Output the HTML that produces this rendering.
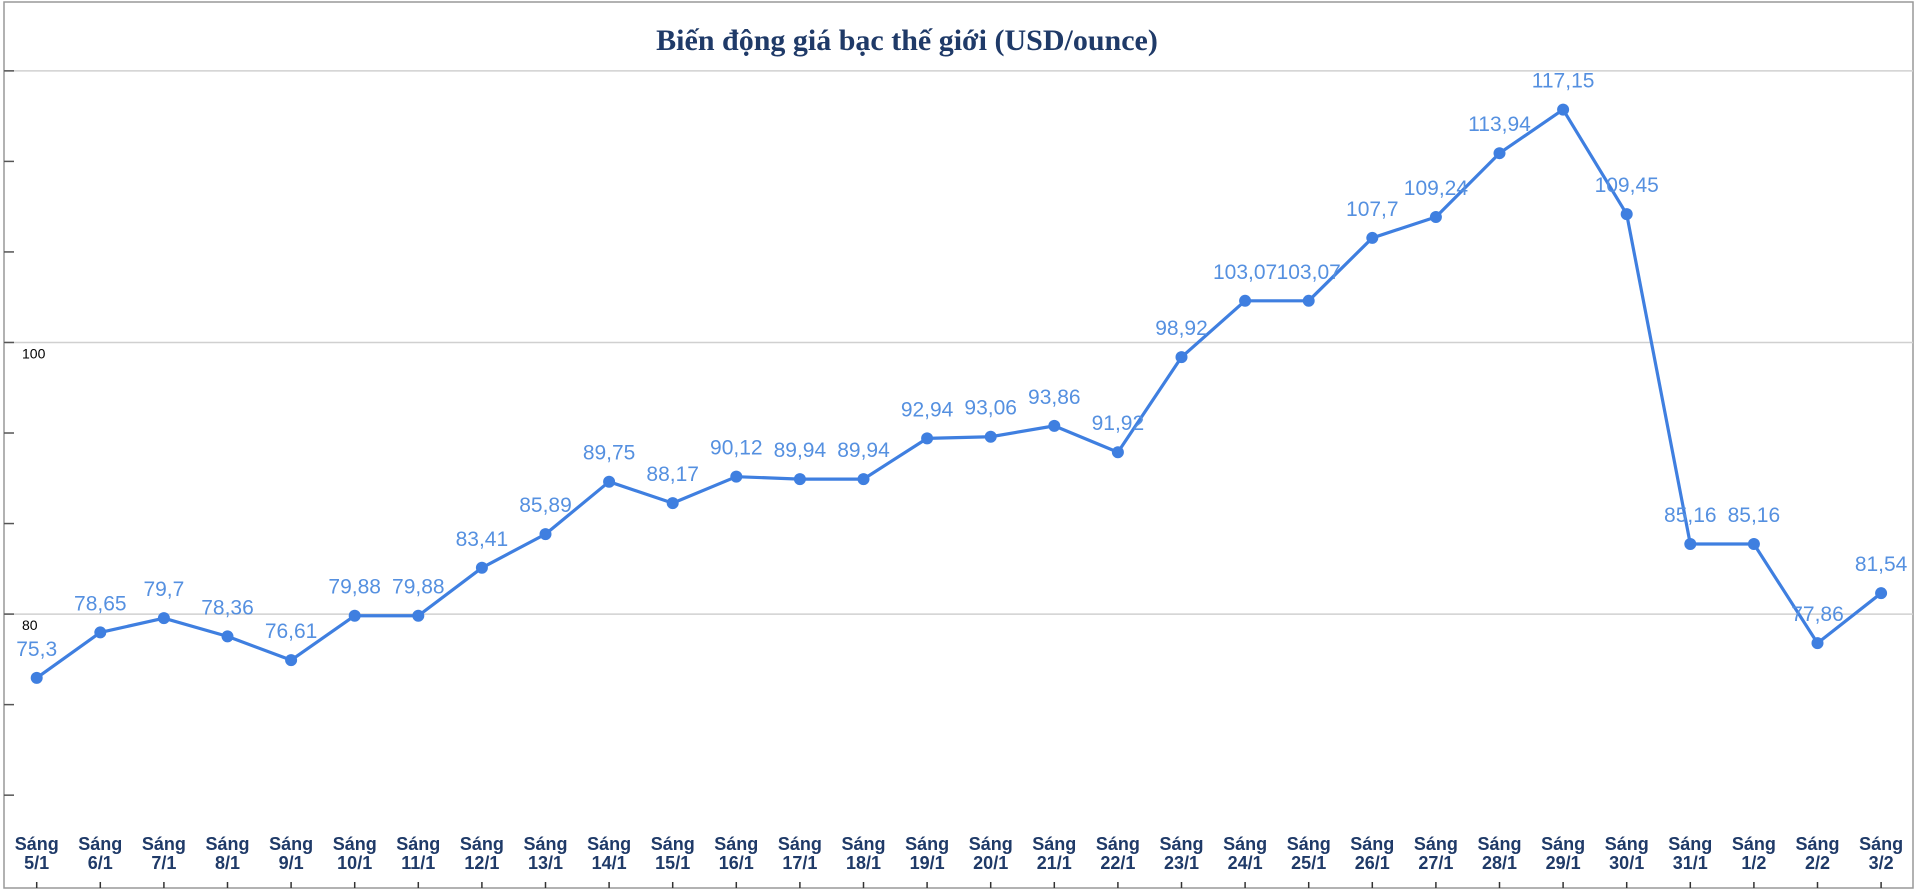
<!DOCTYPE html>
<html><head><meta charset="utf-8"><style>
html,body{margin:0;padding:0;background:#fff;width:1918px;height:891px;overflow:hidden}
svg{display:block}
</style></head><body>
<svg id="chart" width="1918" height="891" xmlns="http://www.w3.org/2000/svg">
<rect x="4" y="2" width="1909" height="886" fill="#fff" stroke="#999" stroke-width="1.5"/>
<text x="907" y="50" text-anchor="middle" font-family="Liberation Serif, serif" font-weight="bold" font-size="30" fill="#1f3a68">Biến động giá bạc thế giới (USD/ounce)</text>
<g id="grid"></g><g id="series"></g><g id="labels"></g><g id="xaxis"></g>
</svg>
<script>
const categories=["Sáng 5/1","Sáng 6/1","Sáng 7/1","Sáng 8/1","Sáng 9/1","Sáng 10/1","Sáng 11/1","Sáng 12/1","Sáng 13/1","Sáng 14/1","Sáng 15/1","Sáng 16/1","Sáng 17/1","Sáng 18/1","Sáng 19/1","Sáng 20/1","Sáng 21/1","Sáng 22/1","Sáng 23/1","Sáng 24/1","Sáng 25/1","Sáng 26/1","Sáng 27/1","Sáng 28/1","Sáng 29/1","Sáng 30/1","Sáng 31/1","Sáng 1/2","Sáng 2/2","Sáng 3/2"];
const prices=[75.3,78.65,79.7,78.36,76.61,79.88,79.88,83.41,85.89,89.75,88.17,90.12,89.94,89.94,92.94,93.06,93.86,91.92,98.92,103.07,103.07,107.7,109.24,113.94,117.15,109.45,85.16,85.16,77.86,81.54];
const priceLabels=["75,3","78,65","79,7","78,36","76,61","79,88","79,88","83,41","85,89","89,75","88,17","90,12","89,94","89,94","92,94","93,06","93,86","91,92","98,92","103,07","103,07","107,7","109,24","113,94","117,15","109,45","85,16","85,16","77,86","81,54"];
const gridValues=[120,100,80];
const yTickLabels=["","100","80"];
const NS="http://www.w3.org/2000/svg";
function y(v){return 342.5-(v-100)*13.58;}
function x(i){return 36.7+i*63.6;}
function mk(tag,attrs,parent){const e=document.createElementNS(NS,tag);for(const k in attrs)e.setAttribute(k,attrs[k]);parent.appendChild(e);return e;}
const grid=document.getElementById('grid'),ser=document.getElementById('series'),lab=document.getElementById('labels'),xa=document.getElementById('xaxis');
gridValues.forEach((v,i)=>{
 const l=mk('line',{x1:4,x2:1913,y1:y(v),y2:y(v),stroke:'#d0d0d0','stroke-width':1.5},grid);
 
 
 if(yTickLabels[i]){const t=mk('text',{x:22,y:y(v)+16,'font-family':'Liberation Sans, sans-serif','font-size':14,fill:'#000'},grid);t.textContent=yTickLabels[i];
 
 }
});
for(let v=126.67;v>=66;v-=6.667){const t=mk('line',{x1:4,x2:14,y1:y(v),y2:y(v),stroke:'#555','stroke-width':1.5},grid);
 
 }
const pts=prices.map((v,i)=>x(i)+','+y(v)).join(' ');
const pl=mk('polyline',{points:pts,fill:'none',stroke:'#3f7fe0','stroke-width':3.2,'stroke-linejoin':'round'},ser);


prices.forEach((v,i)=>{
 const c=mk('circle',{cx:x(i),cy:y(v),r:6,fill:'#3f7fe0'},ser);
 
 
 const t=mk('text',{x:x(i),y:y(v)-22,'text-anchor':'middle','font-family':'Liberation Sans, sans-serif','font-size':21,fill:'#5590e0'},lab);
 t.textContent=priceLabels[i];
 
 
 const parts=categories[i].split(' ');
 const tx=mk('text',{x:x(i),y:850,'text-anchor':'middle','font-family':'Liberation Sans, sans-serif','font-weight':'bold','font-size':18,fill:'#1f3a68'},xa);
 
 
 const a=mk('tspan',{x:x(i),dy:0},tx);a.textContent=parts[0];
 const b=mk('tspan',{x:x(i),dy:19},tx);b.textContent=parts[1];
 const tk=mk('line',{x1:x(i),x2:x(i),y1:882,y2:888,stroke:'#333','stroke-width':1.5},xa);
 
 
});
</script>
</body></html>
